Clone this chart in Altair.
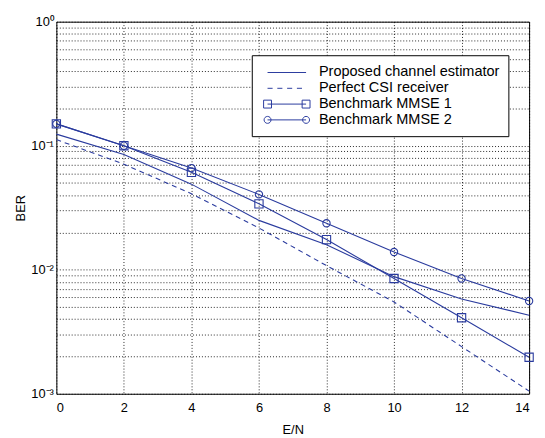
import altair as alt
import pandas as pd

snr = [0, 2, 4, 6, 8, 10, 12, 14]
proposed = [0.124, 0.085, 0.049, 0.025, 0.0159, 0.0088, 0.0058, 0.0043]
perfect = [0.112, 0.071, 0.041, 0.0217, 0.0108, 0.0055, 0.0024, 0.00105]
mmse1 = [0.15, 0.1, 0.061, 0.034, 0.0175, 0.0085, 0.0041, 0.00197]
mmse2 = [0.15, 0.1, 0.066, 0.0405, 0.0237, 0.0139, 0.0085, 0.0056]

series_names = ["Proposed channel estimator", "Perfect CSI receiver",
                "Benchmark MMSE 1", "Benchmark MMSE 2"]
x_ticks = [0, 2, 4, 6, 8, 10, 12, 14]
y_grid = [0.001, 0.002, 0.003, 0.004, 0.005, 0.006, 0.007, 0.008, 0.009,
          0.01, 0.02, 0.03, 0.04, 0.05, 0.06, 0.07, 0.08, 0.09,
          0.1, 0.2, 0.3, 0.4, 0.5, 0.6, 0.7, 0.8, 0.9, 1]

rows = []
for name, vals in zip(series_names, [proposed, perfect, mmse1, mmse2]):
    for xv, yv in zip(snr, vals):
        rows.append({"snr": xv, "ber": yv, "series": name})
df = pd.DataFrame(rows)

COLOR = "#2a3b9e"
FONT = "Liberation Sans"

# legend symbol paths (unit box scaled by symbol size)
leg_paths = [
    "M-2.44,0H2.44",
    "M-2.44,0H-1.8M-1.2,0H-0.56M0.04,0H0.68M1.28,0H1.92",
    "M-2.44,0H2.44M-2.94,-0.5h1v1h-1zM1.94,-0.5h1v1h-1z",
    "M-2.44,0H2.44M-2.88,0a0.44,0.44 0 1,0 0.88,0a0.44,0.44 0 1,0 -0.88,0"
    "M2,0a0.44,0.44 0 1,0 0.88,0a0.44,0.44 0 1,0 -0.88,0",
]

xenc = alt.X("snr:Q", scale=alt.Scale(domain=[0, 14], nice=False),
             axis=alt.Axis(values=x_ticks, title="E/N", grid=True,
                           gridDash=[1, 2], gridColor="#000", gridOpacity=0.85,
                           ticks=False, domain=False, labelPadding=8,
                           titlePadding=9, labelFontSize=13, titleFontSize=13,
                           labelFont=FONT, titleFont=FONT, labelColor="#000",
                           titleColor="#000", titleFontWeight="normal"))
yenc = alt.Y("ber:Q", scale=alt.Scale(type="log", domain=[0.001, 1], nice=False),
             axis=alt.Axis(values=y_grid, title="BER", grid=True,
                           gridDash=[1, 2], gridColor="#000", gridOpacity=0.85,
                           ticks=False, domain=False, labelOverlap=False,
                           labelExpr="datum.value == 1 ? '10⁰' : datum.value == 0.1 ? '10⁻¹' : datum.value == 0.01 ? '10⁻²' : datum.value == 0.001 ? '10⁻³' : ''",
                           labelPadding=3, titlePadding=3, labelFontSize=13,
                           titleFontSize=13, labelFont=FONT, titleFont=FONT,
                           labelColor="#000", titleColor="#000",
                           titleFontWeight="normal"))

base = alt.Chart(df)

solid = base.transform_filter(
    alt.datum.series != "Perfect CSI receiver"
).mark_line(color=COLOR, strokeWidth=1.1).encode(x=xenc, y=yenc, detail="series:N")

dashed = base.transform_filter(
    alt.datum.series == "Perfect CSI receiver"
).mark_line(color=COLOR, strokeWidth=1.1, strokeDash=[5, 4]).encode(x=xenc, y=yenc)

squares = base.transform_filter(alt.datum.series == "Benchmark MMSE 1").mark_point(
    shape="square", filled=False, color=COLOR, size=70, strokeWidth=1.1, opacity=1
).encode(x=xenc, y=yenc)

circles = base.transform_filter(alt.datum.series == "Benchmark MMSE 2").mark_point(
    shape="circle", filled=False, color=COLOR, size=55, strokeWidth=1.1, opacity=1
).encode(x=xenc, y=yenc)

legend_layer = base.mark_point(
    filled=False, color=COLOR, size=0, strokeWidth=1
).encode(
    x=xenc, y=yenc,
    shape=alt.Shape("series:N",
                    scale=alt.Scale(domain=series_names, range=leg_paths),
                    legend=alt.Legend(title=None, orient="none", legendX=198,
                                      legendY=34, symbolSize=256,
                                      symbolStrokeColor=COLOR,
                                      symbolStrokeWidth=1,
                                      symbolFillColor="transparent",
                                      symbolOpacity=1, symbolOffset=18,
                                      labelFontSize=14.7, labelFont=FONT,
                                      labelColor="#000", labelOffset=24,
                                      labelLimit=400,
                                      rowPadding=0, padding=9,
                                      strokeColor="#000", fillColor="#fff",
                                      cornerRadius=0)),
)

chart = alt.layer(solid, dashed, squares, circles, legend_layer).properties(
    width=479, height=377,
    autosize=alt.AutoSizeParams(type="none"),
    padding={"left": 49, "top": 11, "right": 8, "bottom": 45},
    background="#fff",
).configure_view(stroke="#000", strokeWidth=1)

chart.save("out.html", embed_options={"renderer": "svg", "actions": False})
